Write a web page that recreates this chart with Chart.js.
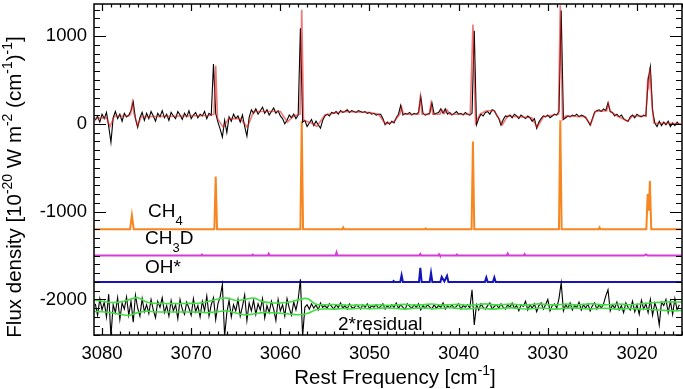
<!DOCTYPE html>
<html lang="en">
<head>
<meta charset="UTF-8">
<title>Spectrum fit</title>
<script src="https://cdn.jsdelivr.net/npm/chart.js"></script>
<style>
  html, body { margin: 0; padding: 0; background: #fff; }
</style>
</head>
<body>
<canvas id="spec" width="683" height="389"></canvas>
<script>
// axis ticks
const xTicks = [3080, 3070, 3060, 3050, 3040, 3030, 3020];
const yTicks = [1000, 0, -1000, -2000];

// observed spectrum and residual, sampled every 0.25 cm-1 from 3080.75 downward
const obsStart = 3080.75;
const obsStep = 0.25;
const obsFlux = [
  40, 85, 20, 110, 60, 130, -30, -210,
  70, 140, 60, 110, 30, 120, 80, 100,
  150, 250, 60, -40, 70, 130, 40, 120,
  60, 140, 90, 30, 120, 80, 150, 70,
  110, 40, 130, 90, 60, 140, 100, 50,
  120, 80, 150, 60, 100, 130, 70, 110,
  90, 140, 60, 120, 100, 680, 120, 20,
  -60, -150, 40, -100, 80, 30, 110, 60,
  90, 20, 100, -30, -140, 70, 160, 120,
  170, 110, 150, 190, 120, 160, 100, 140,
  180, 120, 150, 90, 60, 0, 40, 100,
  70, 110, 60, 100, 1090, 20, 40, -30,
  10, 50, -20, 30, -10, -50, 40, 90,
  110, 90, 130, 120, 140, 110, 150, 130,
  140, 160, 130, 150, 140, 130, 150, 140,
  130, 140, 120, 130, 110, 120, 100, 110,
  110, 60, -10, 20, -5, 30, 10, 70,
  110, 210, 100, 120, 110, 130, 100, 120,
  110, 130, 310, 120, 100, 110, 120, 240,
  110, 120, 130, 170, 120, 170, 110, 130,
  100, 120, 140, 110, 120, 100, 130, 110,
  100, 120, 1060, -10, 60, 110, 90, 130,
  140, 110, 160, 150, 100, 60, -15, 50,
  90, 80, 100, 70, 110, 90, 60, 100,
  80, 60, 90, 70, 30, 60, -50, 20,
  60, 90, 80, 100, 70, 90, 110, 100,
  140, 1290, 50, 70, 90, 80, 100, 90,
  110, 80, 100, 90, 70, 30, -15, 60,
  130, 150, 160, 140, 170, 150, 240, 140,
  130, 90, 110, 80, 100, 60, 40, 30,
  80, 100, 70, 110, 90, 80, 100, 90,
  500, 650, 150, 10, -30, 30, -20, 20,
  -10, 30, -30, 10, -20, 20, -10
];
const residFlux = [
  -2050, -2180, -1990, -2120, -2030, -2200, -1940, -2420,
  -2060, -2150, -1980, -2230, -2040, -2110, -1970, -2180,
  -2020, -2260, -1950, -2100, -2190, -1990, -2140, -2060,
  -2160, -2000, -2120, -2210, -2020, -2090, -1980, -2150,
  -2070, -2190, -2010, -2130, -2060, -2220, -2000, -2110,
  -2170, -2030, -2100, -2180, -1990, -2140, -2070, -2200,
  -2020, -2130, -1960, -2190, -2060, -1980, -2230, -2050,
  -1970, -1830, -2420, -2150, -2010, -2200, -2060, -2130,
  -2000, -2190, -2080, -1950, -2240, -2040, -2130, -2010,
  -2170, -2050, -2120, -1990, -2210, -2070, -2150, -2020,
  -2110, -2240, -2000, -2130, -2060, -2190, -1990, -2100,
  -2180, -2030, -2120, -2000, -1770, -2420, -2090, -2060,
  -2110, -2050, -2100, -2060, -2120, -2040, -2090, -2070,
  -2100, -2050, -2080, -2110, -2060, -2095, -2040, -2100,
  -2070, -2110, -2050, -2090, -2100, -2060, -2080, -2110,
  -2060, -2090, -2050, -2105, -2070, -2090, -2060, -2100,
  -2080, -2050, -2110, -2070, -2100, -2060, -2090, -2040,
  -2100, -2060, -2090, -2110, -2050, -2080, -2100, -2060,
  -2090, -2050, -2120, -2070, -2100, -2060, -2085, -2110,
  -2060, -2100, -2070, -2090, -2040, -2110, -2075, -2095,
  -2060, -2100, -2080, -2050, -2110, -2070, -2090, -2060,
  -2100, -1890, -2290, -2060, -2120, -2050, -2090, -2110,
  -2070, -2040, -2110, -2080, -2060, -2100, -2050, -2090,
  -2110, -2060, -2090, -2040, -2100, -2070, -2130, -2060,
  -2080, -2020, -2120, -2060, -2100, -2050, -2140, -2070,
  -2040, -2110, -2060, -2000, -2130, -2070, -2050, -2100,
  -1990, -1810, -2130, -2060, -2100, -2040, -2120, -2070,
  -2090, -2030, -2120, -2060, -2100, -2050, -2130, -2070,
  -2040, -2110, -2060, -2100, -2050, -1960, -1890, -2130,
  -2060, -2100, -2030, -2120, -2070, -2150, -2040, -2090,
  -2120, -2020, -2140, -2060, -2170, -2010, -2110, -2050,
  -2150, -2000, -2180, -2040, -2120, -2290, -2030, -2070,
  -2000, -2150, -2020, -2170, -1990, -2120, -2060
];

// model fit (red)
const modelFreq = [3080.9, 3079.5, 3079.1, 3078.6, 3077.0, 3076.8, 3076.6, 3076.4, 3076.0, 3075.6,
  3068.0, 3067.45, 3067.25, 3067.05, 3066.4, 3065.8, 3064.5, 3063.7, 3063.0, 3060.0,
  3059.2, 3058.5, 3057.8, 3057.6, 3057.4, 3056.5, 3055.9, 3055.0, 3053.0, 3050.0,
  3049.0, 3048.2, 3047.3, 3046.6, 3046.4, 3046.2, 3044.5, 3044.3, 3044.1, 3043.3,
  3043.1, 3042.9, 3042.1, 3041.9, 3041.6, 3041.3, 3041.0, 3038.7, 3038.4, 3038.1,
  3037.6, 3036.9, 3036.0, 3035.1, 3034.5, 3031.8, 3031.2, 3030.5, 3028.8, 3028.6,
  3028.35, 3028.0, 3025.8, 3025.2, 3024.7, 3023.4, 3023.2, 3023.0, 3022.2, 3021.05,
  3020.5, 3019.0, 3018.8, 3018.68, 3018.55, 3018.3, 3018.1, 3015.0];
const modelFlux = [60, 70, -30, 90, 90, 110, 240, 110, -20, 80,
  95, 110, 660, 60, -40, 60, 60, -40, 140, 140,
  20, 90, 110, 1300, 40, 10, -30, 100, 140, 130,
  110, 0, 20, 110, 190, 110, 110, 300, 110, 110,
  230, 110, 110, 160, 120, 160, 110, 110, 1130, 10,
  110, 150, 150, -10, 90, 70, -40, 80, 110, 1350,
  50, 90, 80, -10, 140, 150, 230, 140, 90, 30,
  90, 90, 480, 420, 640, 200, 10, 0];

// CH4 component, offset
const ch4Freq = [3080.9, 3076.85, 3076.65, 3076.45, 3067.4, 3067.25, 3067.1, 3057.75, 3057.6, 3057.45,
  3053.05, 3052.95, 3052.85, 3043.8, 3043.7, 3043.6, 3038.55, 3038.4, 3038.25, 3028.75,
  3028.6, 3028.45, 3024.3, 3024.2, 3024.1, 3018.95, 3018.8, 3018.68, 3018.55, 3018.4, 3015];
const ch4Flux = [-1200, -1200, -1040, -1200, -1200, -600, -1200, -1200, 30, -1200,
  -1200, -1180, -1200, -1200, -1190, -1200, -1200, -200, -1200, -1200,
  40, -1200, -1200, -1180, -1200, -1200, -800, -990, -650, -1200, -1200];

// CH3D component, offset
const ch3dFreq = [3080.9, 3068.9, 3068.8, 3068.7, 3063.2, 3063.1, 3063.0, 3061.4, 3061.3, 3061.2,
  3053.8, 3053.7, 3053.6, 3044.4, 3044.3, 3044.2, 3042.3, 3042.2, 3042.1, 3040.3,
  3040.2, 3040.1, 3034.6, 3034.5, 3034.4, 3032.7, 3032.6, 3032.5, 3019.2, 3019.0, 3018.8, 3015];
const ch3dFlux = [-1500, -1500, -1488, -1500, -1500, -1490, -1500, -1500, -1480, -1500,
  -1500, -1465, -1500, -1500, -1482, -1500, -1500, -1485, -1500, -1500,
  -1488, -1500, -1500, -1478, -1500, -1500, -1484, -1500, -1500, -1488, -1500, -1500];

// OH* component, offset
const ohFreq = [3080.9, 3047.4, 3047.3, 3047.2, 3046.55, 3046.4, 3046.25, 3044.45, 3044.3, 3044.15,
  3043.25, 3043.1, 3042.95, 3042.05, 3041.9, 3041.6, 3041.3, 3041.15, 3037.05, 3036.9,
  3036.75, 3036.15, 3036.0, 3035.85, 3015];
const ohFlux = [-1800, -1800, -1790, -1800, -1800, -1724, -1800, -1800, -1640, -1800,
  -1800, -1697, -1800, -1800, -1743, -1795, -1731, -1800, -1800, -1750,
  -1800, -1800, -1750, -1800, -1800];

// noise envelope around the residual (green)
const sigFreq = [3081, 3080, 3079, 3078, 3077, 3076, 3075, 3074, 3073, 3072,
  3071, 3070, 3069, 3068, 3067, 3066, 3065, 3064, 3063, 3062,
  3061, 3060, 3059, 3058, 3057, 3056, 3055, 3054, 3053, 3052,
  3051, 3050, 3049, 3048, 3047, 3046, 3045, 3044, 3043, 3042,
  3041, 3040, 3039, 3038, 3037, 3036, 3035, 3034, 3033, 3032,
  3031, 3030, 3029, 3028, 3027, 3026, 3025, 3024, 3023, 3022,
  3021, 3020, 3019, 3018, 3017, 3016, 3015];
const sigHi = [-2005, -2020, -2035, -2030, -2005, -1980, -2030, -2045, -2047, -2047,
  -2047, -2045, -2040, -2020, -1995, -1985, -2012, -2000, -1985, -2025,
  -2038, -2040, -2030, -2005, -1990, -2055, -2060, -2058, -2062, -2066,
  -2064, -2068, -2060, -2066, -2062, -2056, -2064, -2060, -2052, -2063,
  -2060, -2056, -2066, -2060, -2050, -2062, -2058, -2052, -2064, -2060,
  -2050, -2058, -2062, -2052, -2060, -2056, -2050, -2062, -2058, -2052,
  -2060, -2055, -2045, -2035, -2030, -2028, -2030];
const sigLo = [-2135, -2140, -2150, -2168, -2180, -2150, -2135, -2140, -2143, -2143,
  -2143, -2143, -2145, -2150, -2140, -2130, -2155, -2175, -2165, -2150,
  -2152, -2158, -2165, -2175, -2160, -2118, -2108, -2110, -2104, -2108,
  -2100, -2106, -2102, -2096, -2104, -2110, -2100, -2096, -2106, -2102,
  -2094, -2104, -2108, -2098, -2104, -2110, -2100, -2096, -2106, -2108,
  -2098, -2104, -2110, -2100, -2096, -2106, -2108, -2100, -2104, -2110,
  -2104, -2108, -2112, -2118, -2125, -2128, -2126];

const FONT = "'Liberation Sans', Arial, Helvetica, sans-serif";
Chart.defaults.font.family = FONT;
Chart.defaults.color = '#000';

function xy(freqs, vals) {
  return freqs.map((f, i) => ({ x: f, y: vals[i] }));
}
function sampled(start, step, vals) {
  return vals.map((v, i) => ({ x: start - i * step, y: v }));
}
function line(label, data, color, width, extra) {
  return Object.assign({ label, data, borderColor: color, borderWidth: width,
    pointRadius: 0, fill: false, tension: 0 }, extra || {});
}

// text with sub/superscripts: parts are [text, shift] where shift 1 = sup, -1 = sub
function richText(ctx, parts, x, y, size, center) {
  const small = Math.round(size * 0.68);
  const w = parts.map(p => {
    ctx.font = (p[1] ? small : size) + 'px ' + FONT;
    return ctx.measureText(p[0]).width;
  });
  let cx = center ? x - w.reduce((a, b) => a + b, 0) / 2 : x;
  parts.forEach((p, i) => {
    ctx.font = (p[1] ? small : size) + 'px ' + FONT;
    const dy = p[1] === 1 ? -size * 0.42 : p[1] === -1 ? size * 0.42 : 0;
    ctx.fillText(p[0], cx, y + dy);
    cx += w[i];
  });
}

const framePlugin = {
  id: 'frame',
  afterDraw(chart) {
    const { ctx, chartArea: a, scales: { x, y } } = chart;
    ctx.save();
    ctx.strokeStyle = '#000';
    ctx.lineWidth = 1.2;
    ctx.beginPath();
    for (let f = 3015; f <= 3080; f++) {
      const px = Math.round(x.getPixelForValue(f)) + 0.5;
      const len = f % 10 === 0 ? 7 : 3.5;
      ctx.moveTo(px, a.bottom); ctx.lineTo(px, a.bottom - len);
      ctx.moveTo(px, a.top); ctx.lineTo(px, a.top + len);
    }
    for (let v = -2400; v <= 1300; v += 100) {
      const py = Math.round(y.getPixelForValue(v)) + 0.5;
      const len = v % 1000 === 0 ? 12 : 6;
      ctx.moveTo(a.left, py); ctx.lineTo(a.left + len, py);
      ctx.moveTo(a.right, py); ctx.lineTo(a.right - len, py);
    }
    ctx.stroke();
    ctx.lineWidth = 1.5;
    ctx.strokeRect(a.left, a.top, a.right - a.left, a.bottom - a.top);

    ctx.fillStyle = '#000';
    ctx.textBaseline = 'alphabetic';
    ctx.textAlign = 'left';
    // component labels
    const lab = (f, v) => [x.getPixelForValue(f), y.getPixelForValue(v)];
    let p = lab(3074.84, -1058);
    richText(ctx, [['CH', 0], ['4', -1]], p[0], p[1], 19, false);
    p = lab(3075.18, -1372);
    richText(ctx, [['CH', 0], ['3', -1], ['D', 0]], p[0], p[1], 19, false);
    p = lab(3075.18, -1695);
    richText(ctx, [['OH*', 0]], p[0], p[1], 19, false);
    p = lab(3053.53, -2348);
    richText(ctx, [['2*residual', 0]], p[0], p[1], 19, false);

    // axis titles
    richText(ctx, [['Rest Frequency [cm', 0], ['-1', 1], [']', 0]],
      (a.left + a.right) / 2 + 7, 384, 20.5, true);
    ctx.translate(20.5, 187);
    ctx.rotate(-Math.PI / 2);
    richText(ctx, [['Flux density [10', 0], ['-20', 1], [' W m', 0], ['-2', 1],
      [' (cm', 0], ['-1', 1], [')', 0], ['-1', 1], [']', 0]], 0, 0, 20.5, true);
    ctx.restore();
  }
};

new Chart(document.getElementById('spec'), {
  type: 'line',
  data: {
    datasets: [
      line('model', xy(modelFreq, modelFlux), 'rgba(225,30,30,0.6)', 1.6),
      line('observed', sampled(obsStart, obsStep, obsFlux), '#000', 1.1),
      line('sigma high', xy(sigFreq, sigHi), '#3fe03f', 1.6, { tension: 0.4 }),
      line('sigma low', xy(sigFreq, sigLo), '#3fe03f', 1.6, { tension: 0.4 }),
      line('2*residual', sampled(obsStart, obsStep, residFlux), '#000', 1.1),
      line('CH4', xy(ch4Freq, ch4Flux), '#f7861f', 2),
      line('CH3D', xy(ch3dFreq, ch3dFlux), '#d83ad8', 2),
      line('OH*', xy(ohFreq, ohFlux), '#1414b8', 2)
    ]
  },
  options: {
    responsive: false,
    animation: false,
    layout: { padding: { left: 0, right: 1, top: 4, bottom: 0 } },
    plugins: { legend: { display: false }, tooltip: { enabled: false } },
    scales: {
      x: {
        type: 'linear', reverse: true, min: 3014.95, max: 3080.9,
        afterBuildTicks: s => { s.ticks = xTicks.map(v => ({ value: v })); },
        afterFit: s => { s.height = 54; s.paddingLeft = 0; s.paddingRight = 0; },
        grid: { display: false, drawTicks: false },
        border: { display: false },
        ticks: { font: { size: 18.5 }, padding: 8, maxRotation: 0, autoSkip: false,
          callback: v => String(v) }
      },
      y: {
        type: 'linear', min: -2405, max: 1365,
        afterBuildTicks: s => { s.ticks = yTicks.map(v => ({ value: v })); },
        afterFit: s => { s.width = 94; s.paddingTop = 0; s.paddingBottom = 0; },
        grid: { display: false, drawTicks: false },
        border: { display: false },
        ticks: { font: { size: 18.5 }, padding: 7, autoSkip: false,
          callback: v => String(v) }
      }
    }
  },
  plugins: [framePlugin]
});
</script>
</body>
</html>
